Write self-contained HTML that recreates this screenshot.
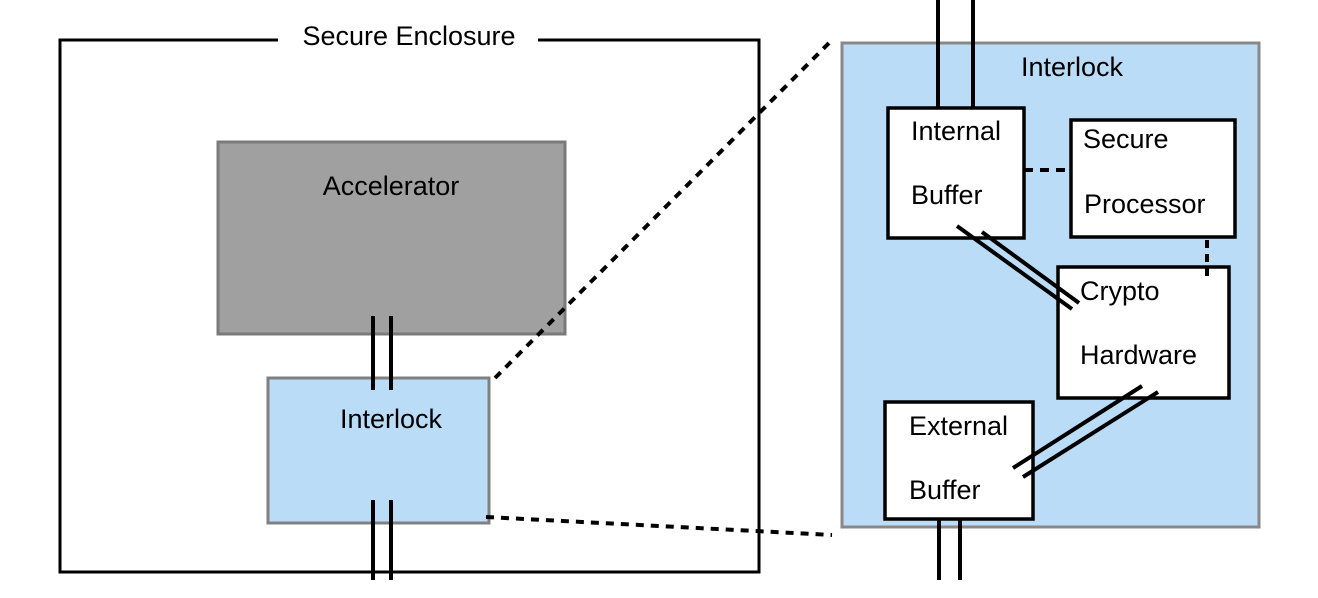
<!DOCTYPE html>
<html><head><meta charset="utf-8"><style>
html,body{margin:0;padding:0;background:#fff;}
svg{display:block;}
text{font-family:"Liberation Sans",Helvetica,Arial,sans-serif;font-size:27px;fill:#000;}
</style></head><body>
<svg width="1318" height="598" viewBox="0 0 1318 598" xmlns="http://www.w3.org/2000/svg">
<rect x="0" y="0" width="1318" height="598" fill="#fff"/>
<!-- outer enclosure -->
<rect x="60" y="40" width="699" height="532" fill="none" stroke="#000" stroke-width="3"/>
<rect x="278" y="20" width="260" height="36" fill="#fff"/>
<text x="409" y="45" text-anchor="middle">Secure Enclosure</text>
<!-- accelerator -->
<rect x="218" y="142" width="347" height="192" fill="#a0a0a0" stroke="#7a7a7a" stroke-width="3"/>
<text x="391" y="195" text-anchor="middle">Accelerator</text>
<!-- small interlock -->
<rect x="268" y="378" width="221" height="145" fill="#bbdcf7" stroke="#808080" stroke-width="3"/>
<text x="391" y="428" text-anchor="middle">Interlock</text>
<g stroke="#000" stroke-width="4">
<line x1="373" y1="316" x2="373" y2="390"/>
<line x1="391" y1="316" x2="391" y2="390"/>
<line x1="373" y1="500" x2="373" y2="580"/>
<line x1="391" y1="500" x2="391" y2="580"/>
</g>
<!-- zoom dotted lines -->
<g stroke="#000" stroke-width="4" stroke-dasharray="8,7" fill="none">
<line x1="495" y1="378" x2="832" y2="40"/>
<line x1="486" y1="517" x2="832" y2="535"/>
</g>
<!-- big interlock -->
<rect x="842" y="43" width="417" height="484" fill="#bbdcf7" stroke="#888" stroke-width="3"/>
<text x="1072" y="76" text-anchor="middle">Interlock</text>
<g stroke="#000" stroke-width="4">
<line x1="938" y1="0" x2="938" y2="109"/>
<line x1="973" y1="0" x2="973" y2="109"/>
<line x1="939" y1="515" x2="939" y2="580"/>
<line x1="960" y1="515" x2="960" y2="580"/>
</g>
<g fill="#fff" stroke="#000" stroke-width="3.5">
<rect x="888" y="108" width="136" height="130"/>
<rect x="1071" y="120" width="164" height="117"/>
<rect x="1058" y="267" width="171" height="131"/>
<rect x="885" y="402" width="148" height="117"/>
</g>
<g stroke="#000" stroke-width="4" fill="none">
<line x1="1024" y1="170" x2="1071" y2="170" stroke-dasharray="9,7"/>
<line x1="1207" y1="240" x2="1207" y2="276" stroke-dasharray="8,6"/>
<line x1="957" y1="226" x2="1072" y2="309"/>
<line x1="982" y1="232" x2="1079" y2="303"/>
<line x1="1142" y1="386" x2="1013" y2="468"/>
<line x1="1158" y1="392" x2="1023" y2="477"/>
</g>
<text x="911" y="140">Internal</text>
<text x="911" y="204">Buffer</text>
<text x="1083" y="148">Secure</text>
<text x="1084" y="213">Processor</text>
<text x="1080" y="300">Crypto</text>
<text x="1080" y="364">Hardware</text>
<text x="909" y="435">External</text>
<text x="909" y="499">Buffer</text>
</svg>
</body></html>
